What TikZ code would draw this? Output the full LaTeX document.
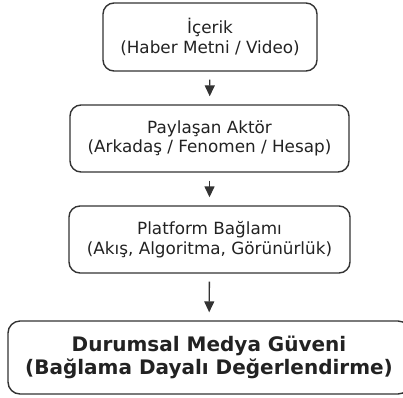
\documentclass[tikz,border=0pt]{standalone}
\usepackage{fontspec}
\setmainfont{DejaVu Sans}
\usetikzlibrary{arrows.meta}
\definecolor{edge}{HTML}{333333}
\definecolor{ink}{HTML}{222222}
\tikzset{
  box/.style={draw=edge, line width=1.4pt, rounded corners=11pt, align=center, text=ink,
    font=\fontsize{16.8}{19.3}\selectfont, inner sep=0pt},
  bigbox/.style={box, font=\fontsize{20}{23.3}\selectfont\bfseries, rounded corners=12pt},
  conn/.style={draw=edge, line width=1.4pt, -{Triangle[length=11pt,width=10pt]},
    shorten <=8pt, shorten >=8pt}
}
\begin{document}
\begin{tikzpicture}[x=1pt,y=-1pt]
\useasboundingbox (0,0) rectangle (403,397);
\clip (0,0) rectangle (403,397);
\node[box, minimum width=214pt, minimum height=68pt] (b1) at (210,37) {İçerik\\(Haber Metni / Video)};
\node[box, minimum width=279pt, minimum height=67pt] (b2) at (209.5,138.5) {Paylaşan Aktör\\(Arkadaş / Fenomen / Hesap)};
\node[box, minimum width=281pt, minimum height=67pt] (b3) at (209.5,239.5) {Platform Bağlamı\\(Akış, Algoritma, Görünürlük)};
\node[bigbox, minimum width=402pt, minimum height=73pt] (b4) at (209,357.5) {Durumsal Medya Güveni\\(Bağlama Dayalı Değerlendirme)};
\draw[conn] (b1) -- (b2);
\draw[conn] (b2) -- (b3);
\draw[conn] (b3) -- (b4);
\end{tikzpicture}
\end{document}
